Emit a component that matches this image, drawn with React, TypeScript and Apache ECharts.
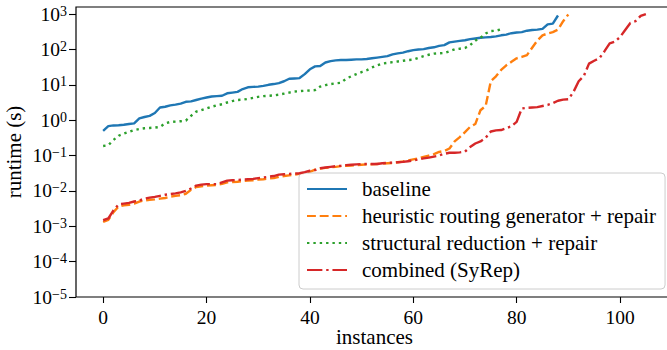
import React, { useEffect, useRef } from "react";
import * as echarts from "echarts";

const FONT = "'Liberation Serif', 'DejaVu Serif', serif";
const TEXT_SIZE = 21;
const TICK_SIZE = 19.5;

const seriesNames = [
  "baseline",
  "heuristic routing generator + repair",
  "structural reduction + repair",
  "combined (SyRep)",
];
const seriesColors = ["#1f77b4", "#ff7f0e", "#2ca02c", "#d62728"];

const instanceTicks = [0, 20, 40, 60, 80, 100];
const runtimeTicks = [1e-5, 1e-4, 1e-3, 1e-2, 1e-1, 1, 10, 100, 1000];

// runtime (s) of the i-th fastest instance
const baseline = [
  0.5, 0.68, 0.71, 0.72, 0.74, 0.78, 0.81, 1.12, 1.23, 1.32,
  1.59, 2.29, 2.4, 2.63, 2.75, 2.95, 3.31, 3.39, 3.72, 4.07,
  4.37, 4.68, 4.79, 4.9, 5.75, 6.03, 6.31, 7.59, 8.51, 8.71,
  8.91, 9.33, 10.0, 10.5, 11.2, 12.6, 14.8, 15.1, 15.5, 20.0,
  27.5, 33.1, 33.9, 42.7, 46.8, 49.0, 50.1, 50.1, 51.3, 52.5,
  52.5, 53.7, 56.2, 58.9, 61.7, 64.6, 72.4, 77.6, 81.3, 89.1,
  95.5, 100, 102, 110, 115, 126, 132, 158, 166, 174,
  182, 195, 204, 214, 219, 224, 234, 251, 263, 288,
  302, 309, 339, 355, 363, 380, 513, 537, 912,
];

const heuristic = [
  1.32e-3, 1.51e-3, 2.51e-3, 3.63e-3, 3.89e-3, 4.07e-3, 4.37e-3, 5.01e-3, 5.37e-3, 5.62e-3,
  5.75e-3, 6.03e-3, 6.31e-3, 6.92e-3, 7.24e-3, 7.59e-3, 8.32e-3, 1.07e-2, 1.29e-2, 1.35e-2,
  1.41e-2, 1.45e-2, 1.48e-2, 1.58e-2, 1.74e-2, 1.78e-2, 1.82e-2, 1.91e-2, 1.95e-2, 2.0e-2,
  2.09e-2, 2.14e-2, 2.24e-2, 2.29e-2, 2.51e-2, 2.63e-2, 2.75e-2, 2.88e-2, 3.02e-2, 3.16e-2,
  3.47e-2, 3.98e-2, 4.27e-2, 4.47e-2, 4.68e-2, 4.79e-2, 5.01e-2, 5.13e-2, 5.25e-2, 5.37e-2,
  5.5e-2, 5.62e-2, 5.62e-2, 5.75e-2, 5.89e-2, 6.03e-2, 6.17e-2, 6.46e-2, 6.76e-2, 7.24e-2,
  7.76e-2, 8.32e-2, 9.12e-2, 0.1, 0.11, 0.126, 0.135, 0.158, 0.251, 0.331,
  0.457, 0.646, 0.776, 1.91, 2.51, 12.6, 17.4, 26.3, 35.5, 44.7,
  56.2, 61.7, 69.2, 112, 178, 251, 282, 309, 363, 631,
  977,
];

const structural = [
  0.186, 0.195, 0.275, 0.363, 0.417, 0.468, 0.525, 0.562, 0.589, 0.603,
  0.617, 0.646, 0.813, 0.891, 0.912, 0.933, 0.977, 1.32, 1.74, 1.91,
  2.14, 2.4, 2.63, 2.82, 3.16, 3.47, 3.72, 3.8, 3.98, 4.27,
  4.57, 4.79, 4.9, 5.01, 5.25, 5.62, 6.03, 6.46, 6.61, 6.76,
  6.92, 7.08, 8.91, 9.77, 10.5, 11.0, 11.4, 14.8, 17.4, 20.0,
  22.9, 25.7, 30.9, 35.5, 39.8, 41.7, 43.7, 45.7, 47.9, 50.1,
  51.3, 57.5, 64.6, 70.8, 75.9, 77.6, 79.4, 89.1, 100, 105,
  110, 132, 178, 214, 282, 331, 339, 372,
];

const combined = [
  1.48e-3, 1.66e-3, 2.82e-3, 4.17e-3, 4.37e-3, 4.57e-3, 5.01e-3, 5.37e-3, 6.03e-3, 6.46e-3,
  6.76e-3, 7.24e-3, 7.76e-3, 8.13e-3, 8.51e-3, 9.12e-3, 1.0e-2, 1.17e-2, 1.41e-2, 1.51e-2,
  1.55e-2, 1.55e-2, 1.55e-2, 1.74e-2, 1.95e-2, 2.0e-2, 2.04e-2, 2.09e-2, 2.14e-2, 2.19e-2,
  2.29e-2, 2.4e-2, 2.51e-2, 2.63e-2, 2.88e-2, 2.95e-2, 3.02e-2, 3.09e-2, 3.16e-2, 3.39e-2,
  3.72e-2, 3.89e-2, 4.37e-2, 4.57e-2, 4.79e-2, 5.01e-2, 5.13e-2, 5.37e-2, 5.5e-2, 5.62e-2,
  5.75e-2, 5.75e-2, 5.75e-2, 5.75e-2, 6.03e-2, 6.17e-2, 6.31e-2, 6.46e-2, 6.61e-2, 6.92e-2,
  7.24e-2, 7.76e-2, 8.32e-2, 8.71e-2, 9.33e-2, 0.1, 0.112, 0.12, 0.12, 0.123,
  0.129, 0.174, 0.219, 0.251, 0.316, 0.479, 0.513, 0.525, 0.589, 0.676,
  0.891, 2.14, 2.24, 2.29, 2.34, 2.51, 2.69, 3.02, 3.55, 3.8,
  3.89, 6.31, 12.6, 17.8, 39.8, 47.9, 56.2, 89.1, 148, 166,
  224, 355, 562, 631, 891, 1000,
];

const allSeries = [baseline, heuristic, structural, combined];
const LW = 2.4;
const dashes: any[] = [
  "solid",
  [3.7 * LW, 1.6 * LW],
  [1 * LW, 1.65 * LW],
  [6.4 * LW, 1.6 * LW, 1 * LW, 1.6 * LW],
];

function expLabel(v: number) {
  const e = Math.round(Math.log10(v));
  const s = e < 0 ? "\u2212" + -e : String(e);
  return "{b|10}{sup|" + s + "}";
}

export default function App() {
  const ref = useRef<HTMLDivElement>(null);
  useEffect(() => {
    if (!ref.current) return;
    const chart = echarts.init(ref.current, undefined, { renderer: "svg" });
    chart.setOption({
      animation: false,
      backgroundColor: "#ffffff",
      textStyle: { fontFamily: FONT },
      grid: {
        left: 76,
        top: 7,
        right: -6,
        bottom: 53,
        show: true,
        borderColor: "#000",
        borderWidth: 1.2,
        containLabel: false,
        outerBoundsMode: "none",
      },
      xAxis: {
        type: "value",
        min: -5.25,
        max: 110.25,
        name: "instances",
        nameLocation: "middle",
        nameGap: 29,
        nameMoveOverlap: false,
        nameTextStyle: { fontSize: TEXT_SIZE, fontFamily: FONT, color: "#000", lineHeight: 21 },
        axisLine: { show: false, onZero: false },
        splitLine: { show: false },
        axisTick: {
          show: true,
          inside: false,
          length: 6,
          lineStyle: { color: "#000", width: 1.1 },
          customValues: instanceTicks,
        },
        axisLabel: {
          fontSize: TICK_SIZE,
          fontFamily: FONT,
          color: "#000",
          margin: 10,
          customValues: instanceTicks,
        },
      },
      yAxis: {
        type: "log",
        logBase: 10,
        min: 1e-5,
        max: 1584.89,
        name: "runtime (s)",
        nameLocation: "middle",
        nameGap: 52,
        nameMoveOverlap: false,
        nameTextStyle: { fontSize: TEXT_SIZE, fontFamily: FONT, color: "#000" },
        axisLine: { show: false, onZero: false },
        splitLine: { show: false },
        minorTick: { show: false },
        axisTick: {
          show: true,
          length: 7,
          lineStyle: { color: "#000", width: 1.1 },
          customValues: runtimeTicks,
        },
        axisLabel: {
          color: "#000",
          margin: 9,
          customValues: runtimeTicks,
          formatter: expLabel,
          rich: {
            b: { fontSize: TICK_SIZE, fontFamily: FONT, color: "#000", verticalAlign: "bottom", lineHeight: 20 },
            sup: { fontSize: 14, fontFamily: FONT, color: "#000", verticalAlign: "bottom", lineHeight: 15, padding: [0, 0, 6, 0] },
          },
        },
      },
      legend: {
        show: true,
        orient: "vertical",
        left: 299,
        top: 173,
        padding: [5, 9, 8, 7],
        itemGap: 5,
        itemWidth: 40,
        itemHeight: 14,
        selectedMode: false,
        backgroundColor: "rgba(255,255,255,0.85)",
        borderColor: "#cccccc",
        borderWidth: 1,
        borderRadius: 4,
        itemStyle: { opacity: 0, borderWidth: 0 },
        textStyle: { fontSize: TEXT_SIZE, fontFamily: FONT, color: "#000", lineHeight: 22, padding: [0, 0, 0, 10] },
        data: seriesNames,
      },
      series: allSeries.map((arr, k) => ({
        name: seriesNames[k],
        type: "line",
        data: arr.map((v, i) => [i, v]),
        symbol: "none",
        showSymbol: false,
        z: 2 + k,
        lineStyle: { color: seriesColors[k], width: LW, type: dashes[k], cap: "butt", join: "round" },
        itemStyle: { color: seriesColors[k] },
      })),
    });
    return () => chart.dispose();
  }, []);
  return (
    <div
      ref={ref}
      style={{ position: "fixed", left: 0, top: 0, width: 667, height: 350 }}
    />
  );
}
